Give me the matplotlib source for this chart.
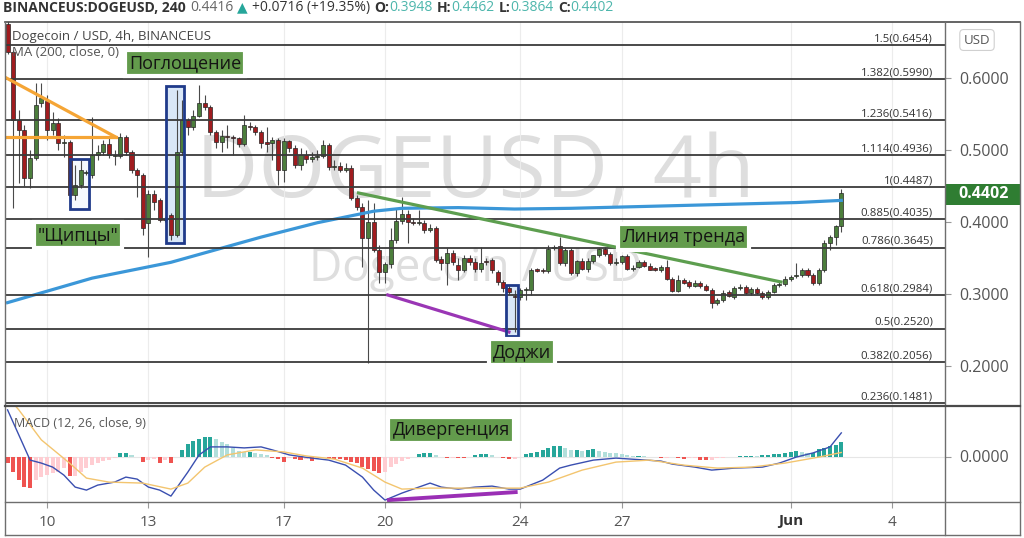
import matplotlib
matplotlib.use("Agg")
import matplotlib.pyplot as plt
import matplotlib.dates as mdates
from matplotlib.patches import Rectangle
from matplotlib.lines import Line2D
from matplotlib.transforms import blended_transform_factory
import numpy as np
import pandas as pd

plt.rcParams["font.family"] = ["Open Sans", "DejaVu Sans"]

# ---- data: DOGEUSD 4h candles ----
opens = [0.6750, 0.6361, 0.5417, 0.5278, 0.4611, 0.4889, 0.5653, 0.5681, 0.5278, 0.5375,
         0.5097, 0.5111, 0.4375, 0.4514, 0.4681, 0.4653, 0.4931, 0.4972, 0.5083, 0.4917,
         0.4917, 0.5181, 0.4972, 0.4722, 0.4653, 0.3986, 0.4389, 0.4306, 0.4028, 0.4097,
         0.3819, 0.4972, 0.5417, 0.5319, 0.5472, 0.5653, 0.5597, 0.5250, 0.5111, 0.5194,
         0.5181, 0.5167, 0.5083, 0.5333, 0.5319, 0.5250, 0.5097, 0.5097, 0.5139, 0.4722,
         0.5125, 0.5028, 0.4792, 0.4931, 0.4875, 0.4903, 0.4917, 0.5069, 0.4764, 0.4778,
         0.4722, 0.4750, 0.4333, 0.4208, 0.3778, 0.4000, 0.3611, 0.3306, 0.3417, 0.3750,
         0.4014, 0.4111, 0.4000, 0.3986, 0.3986, 0.3889, 0.3917, 0.3486, 0.3431, 0.3569,
         0.3403, 0.3333, 0.3500, 0.3444, 0.3347, 0.3444, 0.3472, 0.3306, 0.3167, 0.3083,
         0.2972, 0.2958, 0.3056, 0.3056, 0.3333, 0.3319, 0.3319, 0.3639, 0.3667, 0.3431,
         0.3611, 0.3292, 0.3458, 0.3347, 0.3458, 0.3542, 0.3625, 0.3556, 0.3431, 0.3444,
         0.3528, 0.3347, 0.3375, 0.3444, 0.3389, 0.3347, 0.3333, 0.3375, 0.3208, 0.3042,
         0.3194, 0.3167, 0.3111, 0.3153, 0.3111, 0.3056, 0.2875, 0.2917, 0.3028, 0.2958,
         0.3083, 0.3097, 0.3014, 0.3069, 0.3014, 0.2958, 0.3028, 0.3125, 0.3139, 0.3208,
         0.3250, 0.3264, 0.3333, 0.3264, 0.3153, 0.3333, 0.3708, 0.3792, 0.3948]
highs = [0.6806, 0.6389, 0.5556, 0.5347, 0.5000, 0.5931, 0.5931, 0.5764, 0.5528, 0.5444,
         0.5208, 0.5139, 0.4792, 0.4861, 0.4722, 0.5458, 0.5069, 0.5139, 0.5167, 0.5000,
         0.5236, 0.5208, 0.5000, 0.4750, 0.4681, 0.4444, 0.4444, 0.4333, 0.4069, 0.4125,
         0.5833, 0.5694, 0.5444, 0.5556, 0.5903, 0.5764, 0.5625, 0.5278, 0.5278, 0.5347,
         0.5208, 0.5181, 0.5486, 0.5389, 0.5347, 0.5278, 0.5319, 0.5181, 0.5167, 0.5167,
         0.5139, 0.5069, 0.5028, 0.5000, 0.4972, 0.5000, 0.5139, 0.5097, 0.4861, 0.4833,
         0.4819, 0.4792, 0.4375, 0.4264, 0.4306, 0.4264, 0.3681, 0.3444, 0.3917, 0.4194,
         0.4347, 0.4167, 0.4056, 0.4167, 0.4028, 0.3972, 0.3944, 0.3528, 0.3639, 0.3611,
         0.3500, 0.3542, 0.3542, 0.3500, 0.3653, 0.3500, 0.3500, 0.3333, 0.3194, 0.3125,
         0.3056, 0.3083, 0.3097, 0.3361, 0.3361, 0.3361, 0.3681, 0.3681, 0.3792, 0.3639,
         0.3639, 0.3472, 0.3500, 0.3500, 0.3542, 0.3639, 0.3653, 0.3583, 0.3500, 0.3542,
         0.3556, 0.3403, 0.3472, 0.3472, 0.3431, 0.3375, 0.3403, 0.3472, 0.3236, 0.3264,
         0.3222, 0.3194, 0.3194, 0.3181, 0.3139, 0.3083, 0.2944, 0.3056, 0.3056, 0.3111,
         0.3139, 0.3125, 0.3097, 0.3097, 0.3042, 0.3056, 0.3153, 0.3167, 0.3250, 0.3264,
         0.3431, 0.3361, 0.3361, 0.3292, 0.3361, 0.3750, 0.3819, 0.3958, 0.4462]
lows = [0.6333, 0.4194, 0.4542, 0.4500, 0.4472, 0.4861, 0.5597, 0.5139, 0.5208, 0.5000,
        0.4903, 0.4333, 0.4306, 0.4472, 0.4653, 0.4611, 0.4861, 0.4931, 0.4889, 0.4792,
        0.4889, 0.4931, 0.4681, 0.4347, 0.3819, 0.3514, 0.4167, 0.4000, 0.4000, 0.3750,
        0.3792, 0.4931, 0.5208, 0.5278, 0.5458, 0.5556, 0.5208, 0.5028, 0.4972, 0.5028,
        0.4931, 0.5042, 0.5056, 0.5278, 0.5208, 0.5028, 0.4972, 0.4861, 0.4514, 0.4556,
        0.4972, 0.4750, 0.4722, 0.4819, 0.4833, 0.4861, 0.4889, 0.4722, 0.4722, 0.4694,
        0.4694, 0.4306, 0.4167, 0.3375, 0.2042, 0.3583, 0.3153, 0.3153, 0.3361, 0.3708,
        0.3972, 0.3708, 0.3958, 0.3958, 0.3847, 0.3861, 0.3444, 0.3333, 0.3125, 0.3403,
        0.3194, 0.3306, 0.3403, 0.3306, 0.3306, 0.3403, 0.3292, 0.3125, 0.3028, 0.3000,
        0.2472, 0.2917, 0.2917, 0.2986, 0.3306, 0.3292, 0.3292, 0.3611, 0.3403, 0.3389,
        0.3264, 0.3250, 0.3333, 0.3306, 0.3431, 0.3514, 0.3528, 0.3403, 0.3403, 0.3417,
        0.3333, 0.3319, 0.3361, 0.3375, 0.3333, 0.3319, 0.3306, 0.3194, 0.3028, 0.3028,
        0.3139, 0.3083, 0.3097, 0.3083, 0.3042, 0.2806, 0.2847, 0.2889, 0.2958, 0.2931,
        0.3056, 0.3000, 0.2986, 0.3000, 0.2931, 0.2931, 0.3014, 0.3097, 0.3111, 0.3181,
        0.3222, 0.3236, 0.3236, 0.3125, 0.3125, 0.3306, 0.3611, 0.3681, 0.3864]
closes = [0.6361, 0.5417, 0.5278, 0.4611, 0.4889, 0.5625, 0.5722, 0.5278, 0.5375, 0.5097,
          0.5111, 0.4375, 0.4514, 0.4722, 0.4694, 0.4931, 0.4972, 0.5083, 0.4931, 0.4924,
          0.5181, 0.4972, 0.4722, 0.4653, 0.3917, 0.4389, 0.4278, 0.4028, 0.4042, 0.3819,
          0.4972, 0.5417, 0.5319, 0.5472, 0.5653, 0.5597, 0.5250, 0.5111, 0.5194, 0.5181,
          0.5167, 0.5083, 0.5347, 0.5319, 0.5250, 0.5097, 0.5090, 0.5139, 0.4722, 0.5125,
          0.5028, 0.4792, 0.4931, 0.4875, 0.4903, 0.4917, 0.5069, 0.4764, 0.4778, 0.4722,
          0.4750, 0.4333, 0.4208, 0.3778, 0.4000, 0.3611, 0.3306, 0.3417, 0.3750, 0.4014,
          0.4111, 0.4000, 0.3986, 0.3993, 0.3889, 0.3917, 0.3472, 0.3431, 0.3569, 0.3444,
          0.3333, 0.3500, 0.3444, 0.3347, 0.3431, 0.3438, 0.3333, 0.3167, 0.3083, 0.3028,
          0.2958, 0.3056, 0.3069, 0.3333, 0.3326, 0.3313, 0.3625, 0.3653, 0.3431, 0.3611,
          0.3292, 0.3458, 0.3347, 0.3458, 0.3542, 0.3625, 0.3556, 0.3431, 0.3444, 0.3528,
          0.3347, 0.3361, 0.3444, 0.3389, 0.3333, 0.3340, 0.3375, 0.3208, 0.3042, 0.3194,
          0.3153, 0.3111, 0.3153, 0.3111, 0.3056, 0.2875, 0.2917, 0.3014, 0.2972, 0.3083,
          0.3097, 0.3014, 0.3069, 0.3014, 0.2958, 0.3028, 0.3125, 0.3139, 0.3208, 0.3236,
          0.3264, 0.3333, 0.3264, 0.3153, 0.3333, 0.3708, 0.3792, 0.3948, 0.4402]

# MA(200) sampled at candle indices
ma_idx = [0, 15, 29, 45, 55, 60, 65, 70, 80, 90, 100, 110, 120, 130, 140, 148]
ma_val = [0.288, 0.322, 0.344, 0.379, 0.399, 0.407, 0.415, 0.419, 0.420, 0.418,
          0.419, 0.421, 0.423, 0.425, 0.427, 0.430]

# Fibonacci levels
fib_ratio = ["1.5", "1.382", "1.236", "1.114", "1", "0.885", "0.786", "0.618", "0.5", "0.382", "0.236"]
fib_price = [0.6454, 0.5990, 0.5416, 0.4936, 0.4487, 0.4035, 0.3645, 0.2984, 0.2520, 0.2056, 0.1481]

# MACD (12, 26, 9)
macd_idx = [0, 4, 6, 8, 10, 12, 14, 16, 19, 21, 23, 25, 27, 29, 32, 34, 36, 39, 42, 45,
            47, 50, 54, 57, 60, 63, 65, 67, 70, 73, 75, 77, 80, 83, 86, 89, 91, 95, 98, 100,
            104, 108, 116, 118, 122, 125, 129, 134, 137, 140, 143, 146, 148]
macd_val = [0.0233, -0.0018, -0.0033, -0.0053, -0.0093, -0.0153, -0.0168, -0.0143, -0.0128, -0.0103,
            -0.0113, -0.0153, -0.0168, -0.0198, -0.0078, 0.0008, 0.0048, 0.0048, 0.0043, 0.0048,
            0.0033, 0.0008, -0.0008, -0.0018, -0.0043, -0.0103, -0.0168, -0.0218, -0.0183, -0.0153,
            -0.0133, -0.0153, -0.0163, -0.0153, -0.0148, -0.0163, -0.0163, -0.0118, -0.0058, -0.0043,
            -0.0018, -0.0008, -0.0023, -0.0038, -0.0053, -0.0068, -0.0058, -0.0053, -0.0033, -0.0003,
            0.0018, 0.0048, 0.0118]
sig_idx = [0, 2, 6, 11, 14, 18, 24, 29, 32, 35, 39, 44, 49, 53, 58, 63, 67, 70, 75, 82,
           89, 91, 96, 102, 108, 114, 120, 126, 132, 138, 144, 148]
sig_val = [0.0298, 0.0233, 0.0083, -0.0033, -0.0108, -0.0128, -0.0133, -0.0163, -0.0133, -0.0053,
           0.0008, 0.0033, 0.0023, 0.0003, -0.0013, -0.0058, -0.0128, -0.0163, -0.0158, -0.0158,
           -0.0158, -0.0158, -0.0128, -0.0068, -0.0028, -0.0018, -0.0043, -0.0058, -0.0053, -0.0033,
           -0.0003, 0.0020]
hist = [-0.0034, -0.0076, -0.0118, -0.0151, -0.0159, -0.0118, -0.0103, -0.0091, -0.0084, -0.0076,
        -0.0059, -0.0098, -0.0098, -0.0076, -0.0059, -0.0043, -0.0031, -0.0023, -0.0015, -0.0009,
        0.0019, 0.0019, 0.0006, -0.0004, -0.0029, -0.0015, -0.0012, -0.0031, -0.0015, -0.0034,
        -0.0004, 0.0033, 0.0062, 0.0079, 0.0088, 0.0096, 0.0099, 0.0086, 0.0074, 0.0061,
        0.0041, 0.0029, 0.0024, 0.0024, 0.0016, 0.0013, 0.0008, -0.0008, -0.0012, -0.0028,
        -0.0008, -0.0010, -0.0017, -0.0010, -0.0020, -0.0010, -0.0004, -0.0006, -0.0010, -0.0013,
        -0.0017, -0.0025, -0.0034, -0.0051, -0.0064, -0.0071, -0.0084, -0.0076, -0.0054, -0.0038,
        -0.0021, -0.0011, -0.0004, 0.0011, 0.0016, 0.0016, 0.0008, -0.0003, -0.0008, -0.0005,
        -0.0007, -0.0008, -0.0003, 0.0006, 0.0011, 0.0013, 0.0006, -0.0003, -0.0009, -0.0011,
        -0.0011, -0.0004, 0.0011, 0.0016, 0.0023, 0.0033, 0.0044, 0.0053, 0.0053, 0.0042,
        0.0033, 0.0033, 0.0029, 0.0033, 0.0036, 0.0029, 0.0024, 0.0019, 0.0016, 0.0011,
        0.0006, 0.0004, 0.0004, 0.0003, -0.0001, -0.0004, -0.0009, -0.0006, -0.0004, -0.0006,
        -0.0014, -0.0008, -0.0008, -0.0017, -0.0018, -0.0018, -0.0009, -0.0006, -0.0003, 0.0000,
        0.0002, 0.0002, 0.0004, 0.0002, 0.0008, 0.0010, 0.0012, 0.0015, 0.0019, 0.0024,
        0.0027, 0.0021, 0.0016, 0.0016, 0.0036, 0.0044, 0.0053, 0.0058, 0.0074]

tick_days = ["2021-05-10", "2021-05-13", "2021-05-17", "2021-05-20",
             "2021-05-24", "2021-05-27", "2021-06-01", "2021-06-04"]
tick_labels = ["10", "13", "17", "20", "24", "27", "Jun", "4"]

# ---- layout helpers (pixels of the 1024x538 picture) ----
W, H = 1024, 538
def fx(px): return px / W
def fy(py): return 1 - py / H

times = pd.date_range("2021-05-08 20:00", periods=len(closes), freq="4h")
x = mdates.date2num(times)
def xi(i): return x[0] + i / 6.0

GREEN, RED = "#4c7e3c", "#a01c1f"
FRAME = "#6e6e6e"

fig = plt.figure(figsize=(W / 100, H / 100), dpi=100)
ax = fig.add_axes([fx(6), fy(405), (945 - 6) / W, (405 - 22) / H])
axm = fig.add_axes([fx(6), fy(502), (945 - 6) / W, (502 - 407) / H], sharex=ax)

d10 = mdates.date2num(pd.Timestamp("2021-05-10"))
px_day = 33.8
ax.set_xlim(d10 - 41 / px_day, d10 + 898 / px_day)
ax.set_ylim(0.1458, 0.6778)
axm.set_ylim(-0.02275, 0.02475)

for a in (ax, axm):
    for s in a.spines.values():
        s.set_visible(False)
    a.grid(axis="x", color="#ececec", lw=0.8)
    a.set_axisbelow(True)

# watermark
ax.text(0.5, 0.60, "DOGEUSD, 4h", transform=ax.transAxes, ha="center", va="center",
        fontsize=62, color="#dedede", zorder=0)
ax.text(0.5, 0.355, "Dogecoin / USD", transform=ax.transAxes, ha="center", va="center",
        fontsize=33, color="#dedede", zorder=0)

# highlight boxes (fill under candles, outline on top)
boxes = [((11.0, 0.418), (14.4, 0.4875), "#f4f8fd"),
         ((28.1, 0.3708), (31.3, 0.5889), "#d9e7f7"),
         ((88.5, 0.2417), (90.6, 0.3125), "#d9e7f7")]
for (i0, p0), (i1, p1), fc in boxes:
    ax.add_patch(Rectangle((xi(i0), p0), xi(i1) - xi(i0), p1 - p0, fc=fc, ec="none", zorder=1.5))
    ax.add_patch(Rectangle((xi(i0), p0), xi(i1) - xi(i0), p1 - p0, fc="none", ec="#1f3a8a",
                           lw=2, zorder=5))

# candles
o, h, l, c = map(np.array, (opens, highs, lows, closes))
up = c >= o
col = np.where(up, GREEN, RED)
ax.vlines(x, l, h, color="#4a4a4a", lw=0.8, zorder=2)
body = np.maximum(np.abs(c - o), 0.0018)
ax.bar(x, body, width=0.72 / 6, bottom=np.minimum(o, c), color=col, edgecolor="#262626",
       lw=0.5, zorder=3)

# MA 200
ax.plot([xi(i) for i in ma_idx], ma_val, color="#3b97d8", lw=2.3, zorder=4)

# fib levels
ytr = blended_transform_factory(ax.transAxes, ax.transData)
for r, p in zip(fib_ratio, fib_price):
    ax.axhline(p, color="#3a3a3a", lw=1.3, zorder=4)
    ax.text(0.987, p + 0.0008, f"{r}({p:.4f})", transform=ytr, ha="right", va="bottom",
            fontsize=8.2, color="#333333", zorder=6)

# drawn lines
ax.plot([xi(-0.2), xi(19.2)], [0.600, 0.518], color="#f5a535", lw=2.3, zorder=4.5)
ax.plot([xi(-0.2), xi(19.2)], [0.518, 0.518], color="#f5a535", lw=2.3, zorder=4.5)
ax.plot([xi(62.3), xi(137.3)], [0.4403, 0.3167], color="#5d9e4f", lw=2.3, zorder=4.5)
ax.plot([xi(67.5), xi(89.0)], [0.2986, 0.2472], color="#9a36b5", lw=2.3, zorder=4.5)

# green labels
lab_style = dict(ha="center", va="center", fontsize=13, color="#141414", zorder=7,
                 fontweight="medium",
                 bbox=dict(boxstyle="square,pad=0.22", fc="#639b4c", ec="white", lw=3))
ax.text(0.1906, 0.893, "Поглощение", transform=ax.transAxes, **lab_style)
ax.text(0.0767, 0.444, "\"Щипцы\"", transform=ax.transAxes, **lab_style)
ax.text(0.5495, 0.138, "Доджи", transform=ax.transAxes, **lab_style)
ax.text(0.7220, 0.439, "Линия тренда", transform=ax.transAxes, **lab_style)

# price axis
ax.yaxis.tick_right()
ax.set_yticks([0.2, 0.3, 0.4, 0.5, 0.6])
ax.yaxis.set_major_formatter(matplotlib.ticker.FormatStrFormatter("%.4f"))
ax.tick_params(axis="y", length=4, color="#999999", labelsize=11.5, labelcolor="#555555", pad=6)
ax.tick_params(axis="x", length=0, labelbottom=False)

# MACD panel
hcol = []
for k, v in enumerate(hist):
    prev = hist[k - 1] if k else 0
    if v >= 0:
        hcol.append("#26a69a" if v >= prev else "#b2dfdb")
    else:
        hcol.append("#ef5350" if v < prev else "#ffcdd2")
axm.axhline(0, color="#e6e6e6", lw=0.8, zorder=1)
axm.bar(x, hist, width=0.72 / 6, color=hcol, zorder=2)
axm.plot([xi(i) for i in macd_idx], macd_val, color="#3a4fb0", lw=1.0, zorder=3)
axm.plot([xi(i) for i in sig_idx], sig_val, color="#f3c56f", lw=1.0, zorder=3)
axm.plot([xi(67.7), xi(90.2)], [-0.0218, -0.0178], color="#9a2fb5", lw=2.8, zorder=4)
axm.text(0.474, 0.758, "Дивергенция", transform=axm.transAxes, **lab_style)
axm.text(0.008, 0.83, "MACD (12, 26, close, 9)", transform=axm.transAxes, fontsize=9,
         color="#555555", va="center")

axm.yaxis.tick_right()
axm.set_yticks([0.0])
axm.yaxis.set_major_formatter(matplotlib.ticker.FormatStrFormatter("%.4f"))
axm.tick_params(axis="y", length=4, color="#999999", labelsize=11.5, labelcolor="#555555", pad=6)
axm.set_xticks([mdates.date2num(pd.Timestamp(d)) for d in tick_days])
axm.set_xticklabels(tick_labels)
axm.tick_params(axis="x", length=4, color="#999999", labelsize=11, labelcolor="#555555", pad=5)
for t in axm.get_xticklabels():
    if t.get_text() == "Jun":
        t.set_fontweight("bold")
        t.set_color("#333333")

# current price tag and currency box
fig.add_artist(Rectangle((fx(945), fy(205)), 75 / W, 21 / H, transform=fig.transFigure,
                         fc="#2f7d32", ec="none"))
fig.text(fx(984), fy(194.5), "0.4402", ha="center", va="center", fontsize=11.5,
         color="white", fontweight="bold")
fig.text(fx(977), fy(40), "USD", ha="center", va="center", fontsize=9.5, color="#555555",
         bbox=dict(boxstyle="round,pad=0.3", fc="white", ec="#d0d0d0", lw=0.8))

# pane captions
fig.text(fx(12), fy(37), "Dogecoin / USD, 4h, BINANCEUS", fontsize=9.5, color="#444444",
         va="center")
fig.text(fx(12), fy(53), "MA (200, close, 0)", fontsize=9.5, color="#555555", va="center")

# header line with coloured pieces
pieces = [("BINANCEUS:DOGEUSD, 240", "#333333", "bold", 0),
          ("0.4416", "#666666", "normal", 3),
          ("▲", "#26a69a", "normal", 3),
          ("+0.0716 (+19.35%)", "#333333", "normal", 3),
          ("O:", "#333333", "bold", 3), ("0.3948", "#4db6ac", "normal", 0),
          ("H:", "#333333", "bold", 3), ("0.4462", "#4db6ac", "normal", 0),
          ("L:", "#333333", "bold", 3), ("0.3864", "#4db6ac", "normal", 0),
          ("C:", "#333333", "bold", 3), ("0.4402", "#4db6ac", "normal", 0)]
prev = None
for s, colr, wt, gap in pieces:
    if prev is None:
        prev = fig.text(fx(3), fy(8), s, color=colr, fontweight=wt, fontsize=10, va="center")
    else:
        prev = ax.annotate(s, xy=(1, 0), xycoords=prev, xytext=(gap, 0),
                           textcoords="offset points", ha="left", va="bottom",
                           color=colr, fontweight=wt, fontsize=10, annotation_clip=False)

# frame lines
def fline(x0, y0, x1, y1, color=FRAME, lw=1.0):
    fig.add_artist(Line2D([fx(x0), fx(x1)], [fy(y0), fy(y1)], transform=fig.transFigure,
                          color=color, lw=lw))

fline(5, 22, 1020, 22, "#4a4a4a", 1.2)
fline(5, 535, 1020, 535)
fline(5, 22, 5, 535)
fline(1020, 22, 1020, 535)
fline(945, 22, 945, 535)
fline(5, 406, 1020, 406, "#4a4a4a", 1.6)
fline(5, 502, 1020, 502)

fig.savefig("out.png", dpi=100)
